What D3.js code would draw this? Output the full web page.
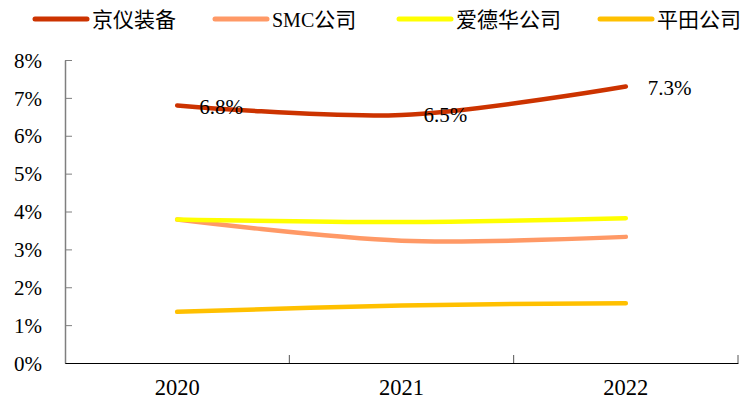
<!DOCTYPE html>
<html><head><meta charset="utf-8">
<script src="https://cdn.jsdelivr.net/npm/d3@7"></script>
<style>body{margin:0;background:#fff}
.lat{font-family:"Liberation Serif","Times New Roman",Times,serif}
.cjk{font-family:"Noto Sans CJK SC",sans-serif}
</style>
</head><body>
<svg id="c" width="742" height="400"></svg>
<script>
const years = ["2020","2021","2022"];
const seriesNames = ["京仪装备","SMC公司","爱德华公司","平田公司"];
const jingyi = [6.8, 6.55, 7.3];
const smc = [3.79, 3.23, 3.33];
const edwards = [3.79, 3.72, 3.82];
const hirata = [1.35, 1.52, 1.58];
const yTicks = [0,1,2,3,4,5,6,7,8];
const jingyiLabels = ["6.8%","6.5%","7.3%"];
const colors = ["#CC3300","#FF9966","#FFFF00","#FFC000"];

const svg = d3.select("#c");
const x = d3.scaleBand().domain(years).range([65, 738]);
const y = d3.scaleLinear().domain([0, 8]).range([363, 60]);

// y axis
const ya = svg.append("g").attr("transform","translate(65,0)")
  .call(d3.axisLeft(y).tickValues(yTicks).tickFormat(d=>d+"%").tickSizeInner(-7).tickSizeOuter(0).tickPadding(23));
ya.attr("font-family",null).attr("font-size",null);
ya.select(".domain").attr("stroke","#7f7f7f").attr("stroke-width",1.5);
ya.selectAll(".tick line").attr("stroke","#7f7f7f");
ya.selectAll("text").attr("class","lat").attr("font-size",21).attr("fill","#000").attr("dy","0.34em");

// x axis
const xa = svg.append("g").attr("transform","translate(0,363)")
  .call(d3.axisBottom(x).tickSize(0).tickPadding(16));
xa.attr("font-family",null).attr("font-size",null);
xa.select(".domain").attr("stroke","#000").attr("stroke-width",1);
xa.selectAll("text").attr("class","lat").attr("font-size",22.5).attr("fill","#000");
// boundary ticks
const bounds = years.map(d=>x(d)).concat([x.range()[1]]);
svg.append("g").selectAll("line").data(bounds.slice(1)).join("line")
  .attr("x1",d=>d).attr("x2",d=>d).attr("y1",363).attr("y2",355)
  .attr("stroke","#555").attr("stroke-width",1);

const all = [jingyi, smc, edwards, hirata];
const line = d3.line()
  .x((d,i)=>x(years[i]) + x.bandwidth()/2)
  .y(d=>y(d))
  .curve(d3.curveCardinal.tension(0));
[3,1,2,0].forEach(k=>{
  svg.append("path").datum(all[k]).attr("d",line)
    .attr("fill","none").attr("stroke",colors[k]).attr("stroke-width",4.5)
    .attr("stroke-linecap","round");
});

// data labels
const labOff = [9, 7, 8.5];
svg.append("g").selectAll("text").data(jingyi).join("text")
  .attr("class","lat")
  .attr("x",(d,i)=>x(years[i]) + x.bandwidth()/2 + 22)
  .attr("y",(d,i)=>y(d) + labOff[i])
  .attr("font-size",21).attr("fill","#000")
  .text((d,i)=>jingyiLabels[i]);

// legend
const legX = [35, 215, 399, 600];
const lg = svg.append("g");
seriesNames.forEach((n,i)=>{
  lg.append("line").attr("x1",legX[i]).attr("x2",legX[i]+52).attr("y1",19).attr("y2",19)
    .attr("stroke",colors[i]).attr("stroke-width",5).attr("stroke-linecap","round");
  const t = lg.append("text").attr("x",legX[i]+57).attr("y",26.5)
    .attr("fill","#000");
  const m = n.match(/^([A-Za-z]*)(.*)$/);
  if (m[1]) t.append("tspan").attr("class","lat").attr("font-size",20).text(m[1]);
  t.append("tspan").attr("class","cjk").attr("font-size",21).text(m[2]);
});
</script>
</body></html>
